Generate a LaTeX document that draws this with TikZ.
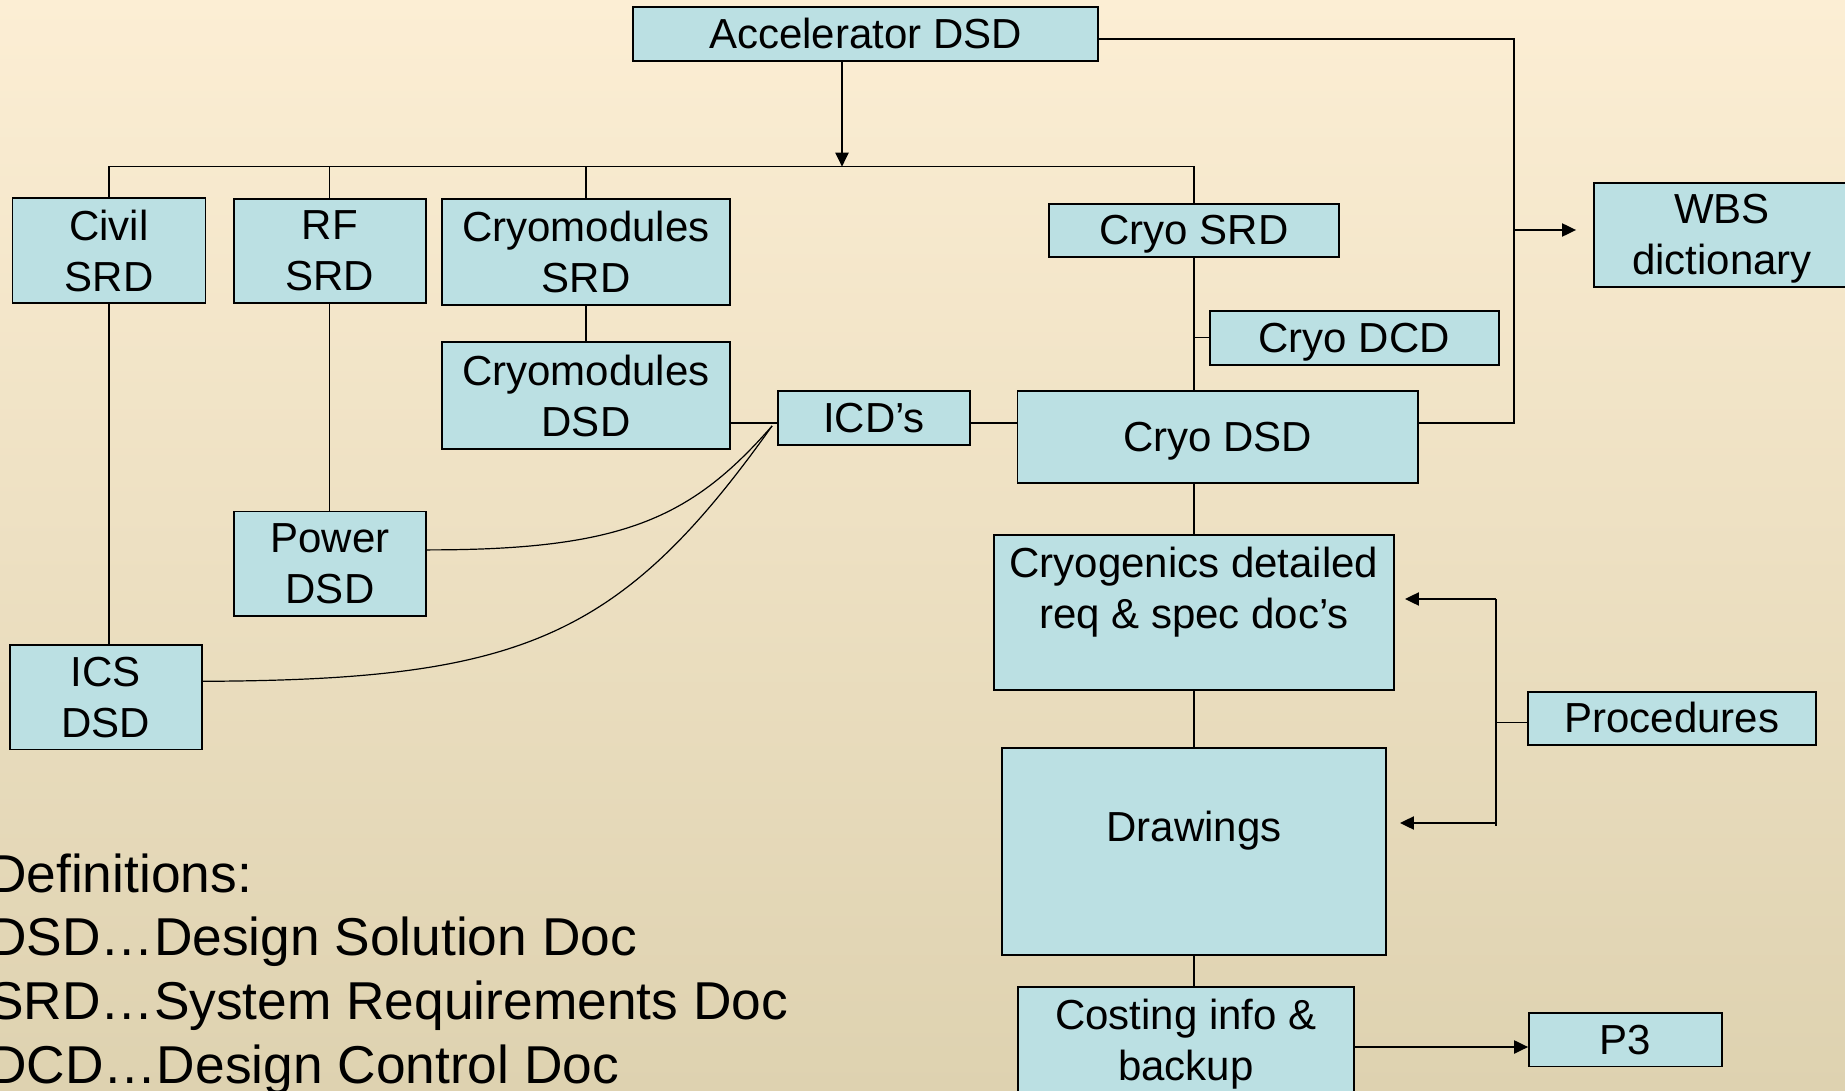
\documentclass[tikz,border=0pt]{standalone}
\usepackage{fontspec}
\setmainfont{Liberation Sans}
\usetikzlibrary{arrows.meta,calc}
\definecolor{boxfill}{HTML}{BBE0E3}
\definecolor{bgtop}{HTML}{FCEED4}
\definecolor{bgmid}{HTML}{F4EBD5}
\definecolor{bgbot}{HTML}{DED2B0}
\begin{document}
\begin{tikzpicture}[x=1pt,y=-1pt,
  box/.style={draw=black, line width=1.8pt, fill=boxfill, inner sep=0pt, align=center,
    font=\fontsize{42}{51}\selectfont},
  oneline/.style={box, text height=38pt, text depth=8.9pt},
  conn/.style={draw=black, line width=1.4pt},
  arr/.style={draw=black, line width=2pt, -{Triangle[length=14pt,width=13pt]}},
  deftext/.style={inner sep=0pt, align=left, font=\fontsize{53.3}{63.7}\selectfont}]
\useasboundingbox (0,0) rectangle (1845,1091);
\clip (0,0) rectangle (1845,1091);
\shade[top color=bgtop, middle color=bgmid, bottom color=bgbot] (0,0) rectangle (1845,1091);

% boxes
\node[oneline, minimum width=465pt, minimum height=54pt] (Acc) at (865.5,34) {Accelerator DSD};
\node[box, minimum width=193pt, minimum height=105pt] (Civil) at (109,250.8) {Civil\\SRD};
\node[box, minimum width=192pt, minimum height=104pt] (RF) at (329.7,250.8) {RF\\SRD};
\node[box, minimum width=288pt, minimum height=106pt] (CMSRD) at (586,252) {Cryomodules\\SRD};
\node[box, minimum width=288pt, minimum height=107pt] (CMDSD) at (586,395.7) {Cryomodules\\DSD};
\node[oneline, minimum width=192pt, minimum height=54pt] (ICD) at (874,417.9) {ICD’s};
\node[oneline, minimum width=289.4pt, minimum height=52.7pt] (CryoSRD) at (1194,230.3) {Cryo SRD};
\node[oneline, minimum width=289pt, minimum height=54pt] (CryoDCD) at (1354.1,337.7) {Cryo DCD};
\node[oneline, minimum width=400.6pt, minimum height=92.6pt] (CryoDSD) at (1217.7,437) {Cryo DSD};
\node[box, minimum width=256pt, minimum height=104pt, text depth=0pt] (WBS) at (1722,234.7) {WBS\\dictionary};
\node[box, minimum width=192pt, minimum height=104.7pt] (Power) at (330,563.9) {Power\\DSD};
\node[box, minimum width=192.4pt, minimum height=104.5pt] (ICS) at (105.8,697.3) {ICS\\DSD};
\node[box, minimum width=400pt, minimum height=154.7pt,
  label={[align=center, font=\fontsize{42}{51}\selectfont, inner sep=0pt, yshift=20pt]center:{Cryogenics detailed\\req \& spec doc’s}}] (Cryogen) at (1194,612.4) {};
\node[box, minimum width=384pt, minimum height=207pt,
  label={[font=\fontsize{42}{51}\selectfont, inner sep=0pt, yshift=21pt]center:{Drawings}}] (Drawings) at (1194,851.2) {};
\node[box, minimum width=336pt, minimum height=114pt] (Costing) at (1186,1044) {Costing info \&\\backup};
\node[oneline, minimum width=288.4pt, minimum height=53.4pt] (Proc) at (1671.8,718.3) {Procedures};
\node[oneline, minimum width=192.7pt, minimum height=53.5pt] (P3) at (1625.4,1039.8) {P3};

% definitions
\node[deftext, anchor=north west] (Defs) at (-12,853.3) {Definitions:\\DSD…Design Solution Doc\\SRD…System Requirements Doc\\DCD…Design Control Doc};

% bus from Accelerator DSD
\coordinate (bus) at (0,166.7);
\coordinate (accbot) at ($(Acc.south)+(-23.5,0)$);
\draw[arr] (accbot) -- (accbot |- bus);
\draw[conn] (Civil.north) -- (Civil.north |- bus) -- (CryoSRD.north |- bus) -- (CryoSRD.north);
\draw[conn] (RF.north) -- (RF.north |- bus);
\draw[conn] (CMSRD.north) -- (CMSRD.north |- bus);

% vertical chains
\draw[conn] (Civil.south) -- (Civil.south |- ICS.north);
\draw[conn] (RF.south) -- (RF.south |- Power.north);
\draw[conn] (CMSRD.south) -- (CMDSD.north);
\draw[conn] (CryoSRD.south) -- (CryoSRD.south |- CryoDSD.north);
\coordinate (dcdj) at (CryoSRD.south |- CryoDCD.west);
\draw[conn] (dcdj) -- (CryoDCD.west);
\draw[conn] (CryoSRD.south |- CryoDSD.south) -- (Cryogen.north);
\draw[conn] (Cryogen.south) -- (Drawings.north);
\draw[conn] (Drawings.south) -- (Drawings.south |- Costing.north);

% ICD links
\coordinate (icdL) at ($(ICD.west)+(0,5)$);
\coordinate (icdR) at ($(ICD.east)+(0,5)$);
\draw[conn] (icdL) -- (icdL -| CMDSD.east);
\draw[conn] (icdR) -- (icdR -| CryoDSD.west);
\coordinate (icdC) at ($(ICD.west)+(-5,8)$);
\coordinate (powE) at ($(Power.east)+(0,-14)$);
\coordinate (icsE) at ($(ICS.east)+(0,-16)$);
\draw[line width=1.2pt] (powE) .. controls (620,550) and (690,520) .. (icdC);
\draw[line width=1.2pt] (icsE) .. controls (520,680) and (620,640) .. (icdC);

% Accelerator -> WBS / Cryo DSD
\coordinate (accR) at ($(Acc.east)+(0,5)$);
\coordinate (wv) at (1514,0);
\coordinate (dsdR) at ($(CryoDSD.east)+(0,-14)$);
\draw[conn] (accR) -- (accR -| wv) -- (dsdR -| wv) -- (dsdR);
\coordinate (wj) at (1514,230);
\coordinate (wtip) at ($(wj -| WBS.west)+(-17,0)$);
\draw[arr] (wj) -- (wtip);

% Procedures
\coordinate (pt) at (1496,599);
\coordinate (pb) at (1496,826);
\coordinate (pl) at (1496,823);
\draw[conn] (pt) -- (pb);
\coordinate (pj) at (1496,722.4);
\draw[conn] (pj -| Proc.west) -- (pj);
\coordinate (ptA) at ($(Cryogen.east |- pt)+(10,0)$);
\coordinate (pbA) at ($(Drawings.east |- pl)+(13,0)$);
\draw[arr] (pt) -- (ptA);
\draw[arr] (pl) -- (pbA);

% Costing -> P3
\coordinate (cp) at ($(Costing.east)+(0,3)$);
\draw[arr] (cp) -- (cp -| P3.west);
\end{tikzpicture}
\end{document}
